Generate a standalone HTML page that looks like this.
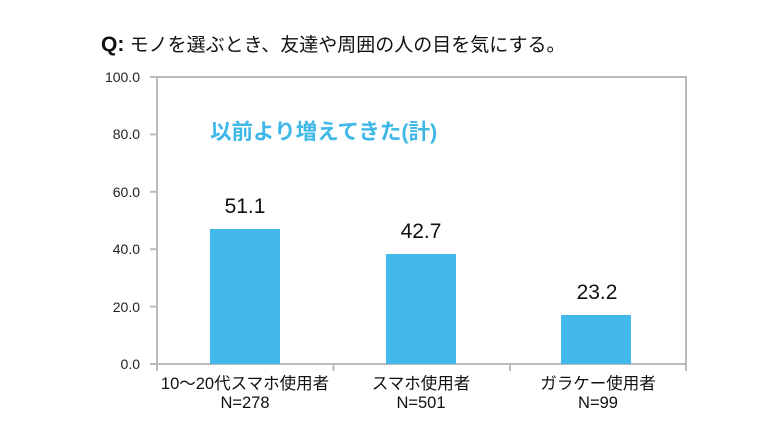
<!DOCTYPE html><html><head><meta charset="utf-8"><style>
body{margin:0;width:784px;height:440px;background:#fff;font-family:"Liberation Sans","Noto Sans CJK JP",sans-serif;position:relative;overflow:hidden}
.a{position:absolute;white-space:nowrap}
.yl{position:absolute;right:644px;font-size:14px;color:#222;transform:translateY(-50%)}
.bar{position:absolute;background:#42b8eb;width:70px}
.v{position:absolute;font-size:21px;color:#111;width:100px;text-align:center;transform:translateX(-50%)}
.c{position:absolute;font-size:16.5px;color:#111;text-align:center;width:200px;line-height:19px;white-space:nowrap}
</style></head><body>
<div class="a" style="left:101px;top:30px;font-size:19px;color:#111"><b style="font-size:21px">Q:</b> モノを選ぶとき、友達や周囲の人の目を気にする。</div>
<svg class="a" style="left:0;top:0" width="784" height="440">
<g stroke="#bbb" stroke-width="2" fill="none">
<polyline points="157,77 686,77 686,364"/>
<line x1="157" y1="77" x2="157" y2="365"/>
<line x1="150" y1="364" x2="686" y2="364"/>
<line x1="150" y1="77" x2="157" y2="77"/><line x1="150" y1="134.4" x2="157" y2="134.4"/><line x1="150" y1="191.8" x2="157" y2="191.8"/><line x1="150" y1="249.2" x2="157" y2="249.2"/><line x1="150" y1="306.6" x2="157" y2="306.6"/>
<line x1="333.5" y1="364" x2="333.5" y2="371"/><line x1="510" y1="364" x2="510" y2="371"/><line x1="686" y1="364" x2="686" y2="371"/><line x1="157" y1="364" x2="157" y2="371"/>
</g></svg>
<div class="yl" style="top:77px">100.0</div>
<div class="yl" style="top:134px">80.0</div>
<div class="yl" style="top:192px">60.0</div>
<div class="yl" style="top:249px">40.0</div>
<div class="yl" style="top:307px">20.0</div>
<div class="yl" style="top:364px">0.0</div>
<div class="a" style="left:210px;top:115px;font-size:21.5px;font-weight:bold;color:#3fb8e8">以前より増えてきた(計)</div>
<div class="bar" style="left:210px;top:229px;height:135px"></div>
<div class="bar" style="left:386px;top:254px;height:110px"></div>
<div class="bar" style="left:561px;top:315px;height:49px"></div>
<div class="v" style="left:245px;top:195px">51.1</div>
<div class="v" style="left:421px;top:220px">42.7</div>
<div class="v" style="left:597px;top:281px">23.2</div>
<div class="c" style="left:145px;top:375px">10～20代スマホ使用者<br>N=278</div>
<div class="c" style="left:321px;top:375px">スマホ使用者<br>N=501</div>
<div class="c" style="left:498px;top:375px">ガラケー使用者<br>N=99</div>
</body></html>
